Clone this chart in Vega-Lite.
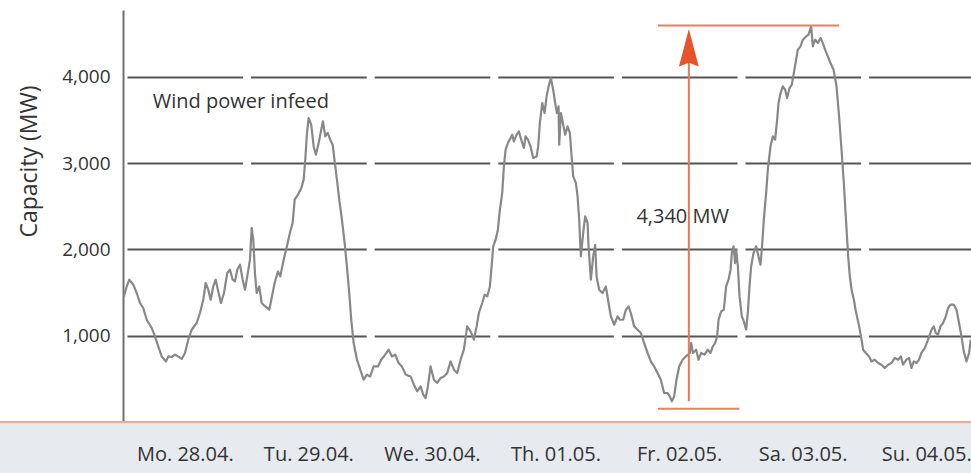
{
  "$schema": "https://vega.github.io/schema/vega-lite/v6.json",
  "width": 848,
  "height": 412,
  "autosize": {"type": "none"},
  "padding": {"left": 123, "top": 10, "right": 0, "bottom": 51},
  "background": "white",
  "config": {"view": {"stroke": null}, "font": "Open Sans", "text": {"font": "Open Sans"}},
  "layer": [
    {
      "data": {"values": [{}]},
      "mark": {"type": "rect", "clip": false, "color": "#e7eaee"},
      "encoding": {
        "x": {"datum": -30, "type": "quantitative", "scale": {"domain": [0, 164.7], "nice": false, "zero": false}},
        "x2": {"datum": 170},
        "y": {"datum": 0, "type": "quantitative", "scale": {"domain": [0, 4774], "nice": false}},
        "y2": {"datum": -700}
      }
    },
    {
      "data": {"values": [{}]},
      "mark": {"type": "rule", "clip": false, "color": "#f2a98a", "strokeWidth": 2},
      "encoding": {
        "x": {"datum": -30, "type": "quantitative", "scale": {"domain": [0, 164.7], "nice": false, "zero": false}},
        "x2": {"datum": 170},
        "y": {"datum": 0, "type": "quantitative", "scale": {"domain": [0, 4774], "nice": false}}
      }
    },
    {
      "data": {"values": [
        {"h":0.19,"mw":1455},{"h":0.72,"mw":1571},{"h":1.22,"mw":1649},{"h":2.0,"mw":1591},{"h":2.66,"mw":1495},{"h":3.30,"mw":1379},{"h":3.94,"mw":1321},{"h":4.60,"mw":1185},{"h":5.57,"mw":1089},{"h":6.21,"mw":992},{"h":6.85,"mw":876},{"h":7.51,"mw":760},{"h":8.35,"mw":702},{"h":8.80,"mw":760},{"h":9.45,"mw":753},{"h":10.10,"mw":780},{"h":10.74,"mw":760},{"h":11.40,"mw":730},{"h":12.04,"mw":800},{"h":12.68,"mw":954},{"h":13.34,"mw":1069},{"h":14.31,"mw":1147},{"h":14.95,"mw":1263},{"h":15.59,"mw":1417},{"h":16.06,"mw":1611},{"h":16.56,"mw":1533},{"h":17.03,"mw":1417},{"h":17.53,"mw":1571},{"h":18.0,"mw":1649},{"h":18.50,"mw":1513},{"h":19.03,"mw":1379},{"h":19.61,"mw":1495},{"h":20.25,"mw":1726},{"h":20.78,"mw":1765},{"h":21.30,"mw":1649},{"h":21.75,"mw":1629},{"h":22.19,"mw":1765},{"h":22.72,"mw":1823},{"h":23.24,"mw":1649},{"h":23.69,"mw":1533},{"h":24.14,"mw":1687},{"h":24.66,"mw":1881},{"h":24.99,"mw":2248},{"h":25.30,"mw":2112},{"h":25.63,"mw":1726},{"h":25.96,"mw":1495},{"h":26.47,"mw":1571},{"h":26.93,"mw":1379},{"h":27.63,"mw":1339},{"h":28.41,"mw":1301},{"h":28.93,"mw":1455},{"h":29.45,"mw":1611},{"h":30.10,"mw":1745},{"h":30.54,"mw":1687},{"h":31.20,"mw":1881},{"h":31.84,"mw":2035},{"h":32.48,"mw":2208},{"h":32.95,"mw":2306},{"h":33.34,"mw":2576},{"h":33.98,"mw":2634},{"h":34.62,"mw":2711},{"h":35.09,"mw":2808},{"h":35.40,"mw":3039},{"h":35.73,"mw":3349},{"h":36.06,"mw":3522},{"h":36.56,"mw":3445},{"h":37.03,"mw":3193},{"h":37.47,"mw":3097},{"h":38.0,"mw":3233},{"h":38.50,"mw":3387},{"h":38.83,"mw":3483},{"h":39.28,"mw":3309},{"h":39.75,"mw":3349},{"h":40.25,"mw":3271},{"h":40.72,"mw":3213},{"h":41.11,"mw":3020},{"h":41.55,"mw":2808},{"h":42.0,"mw":2576},{"h":42.52,"mw":2344},{"h":43.05,"mw":2074},{"h":43.49,"mw":1803},{"h":43.94,"mw":1495},{"h":44.33,"mw":1185},{"h":44.80,"mw":915},{"h":45.44,"mw":722},{"h":46.08,"mw":606},{"h":46.74,"mw":490},{"h":47.38,"mw":548},{"h":48.02,"mw":528},{"h":48.68,"mw":644},{"h":49.51,"mw":644},{"h":50.15,"mw":722},{"h":50.93,"mw":780},{"h":51.59,"mw":838},{"h":52.23,"mw":760},{"h":52.87,"mw":780},{"h":53.53,"mw":684},{"h":54.17,"mw":644},{"h":54.95,"mw":548},{"h":55.86,"mw":528},{"h":56.50,"mw":432},{"h":57.14,"mw":355},{"h":57.80,"mw":412},{"h":58.31,"mw":316},{"h":58.77,"mw":278},{"h":59.22,"mw":412},{"h":59.74,"mw":644},{"h":60.39,"mw":490},{"h":61.03,"mw":452},{"h":61.69,"mw":510},{"h":62.33,"mw":528},{"h":62.97,"mw":568},{"h":63.63,"mw":702},{"h":64.27,"mw":606},{"h":64.91,"mw":568},{"h":65.57,"mw":722},{"h":66.21,"mw":838},{"h":66.85,"mw":1108},{"h":67.51,"mw":1050},{"h":68.15,"mw":954},{"h":68.68,"mw":1108},{"h":69.12,"mw":1263},{"h":69.77,"mw":1379},{"h":70.23,"mw":1475},{"h":70.74,"mw":1455},{"h":71.26,"mw":1571},{"h":71.59,"mw":1803},{"h":71.90,"mw":2035},{"h":72.37,"mw":2112},{"h":72.81,"mw":2228},{"h":73.20,"mw":2460},{"h":73.65,"mw":2653},{"h":73.98,"mw":2962},{"h":74.31,"mw":3155},{"h":74.76,"mw":3233},{"h":75.28,"mw":3291},{"h":75.59,"mw":3329},{"h":75.92,"mw":3251},{"h":76.45,"mw":3329},{"h":76.89,"mw":3367},{"h":77.34,"mw":3271},{"h":77.86,"mw":3175},{"h":78.19,"mw":3309},{"h":78.64,"mw":3271},{"h":79.16,"mw":3193},{"h":79.67,"mw":3059},{"h":80.33,"mw":3077},{"h":80.64,"mw":3193},{"h":80.97,"mw":3465},{"h":81.42,"mw":3696},{"h":81.88,"mw":3580},{"h":82.27,"mw":3773},{"h":82.66,"mw":3889},{"h":83.10,"mw":3986},{"h":83.55,"mw":3850},{"h":83.94,"mw":3696},{"h":84.27,"mw":3580},{"h":84.60,"mw":3657},{"h":84.72,"mw":3213},{"h":85.05,"mw":3580},{"h":85.50,"mw":3445},{"h":85.88,"mw":3329},{"h":86.35,"mw":3425},{"h":86.79,"mw":3349},{"h":87.18,"mw":3039},{"h":87.44,"mw":2846},{"h":87.96,"mw":2769},{"h":88.29,"mw":2614},{"h":88.60,"mw":2344},{"h":88.93,"mw":1919},{"h":89.38,"mw":2190},{"h":89.76,"mw":2382},{"h":90.23,"mw":2306},{"h":90.42,"mw":2035},{"h":90.87,"mw":1649},{"h":91.32,"mw":1919},{"h":91.71,"mw":2054},{"h":91.98,"mw":1687},{"h":92.48,"mw":1533},{"h":93.14,"mw":1495},{"h":93.78,"mw":1571},{"h":94.31,"mw":1379},{"h":94.75,"mw":1224},{"h":95.40,"mw":1127},{"h":96.05,"mw":1224},{"h":96.50,"mw":1185},{"h":97.14,"mw":1185},{"h":97.67,"mw":1301},{"h":98.19,"mw":1339},{"h":98.64,"mw":1263},{"h":99.28,"mw":1108},{"h":99.94,"mw":1069},{"h":100.58,"mw":1031},{"h":101.22,"mw":915},{"h":101.88,"mw":800},{"h":102.52,"mw":702},{"h":103.16,"mw":644},{"h":103.82,"mw":568},{"h":104.46,"mw":490},{"h":105.10,"mw":336},{"h":105.76,"mw":336},{"h":106.21,"mw":297},{"h":106.60,"mw":239},{"h":107.05,"mw":297},{"h":107.51,"mw":490},{"h":108.02,"mw":644},{"h":108.68,"mw":722},{"h":109.32,"mw":760},{"h":110.09,"mw":800},{"h":110.35,"mw":915},{"h":110.68,"mw":800},{"h":111.32,"mw":838},{"h":111.78,"mw":722},{"h":112.29,"mw":800},{"h":112.95,"mw":780},{"h":113.59,"mw":838},{"h":114.11,"mw":800},{"h":114.56,"mw":876},{"h":115.01,"mw":915},{"h":115.40,"mw":992},{"h":115.67,"mw":1185},{"h":116.17,"mw":1282},{"h":116.70,"mw":1301},{"h":117.14,"mw":1571},{"h":117.61,"mw":1649},{"h":118.0,"mw":1765},{"h":118.25,"mw":1958},{"h":118.58,"mw":2035},{"h":118.89,"mw":1842},{"h":119.09,"mw":1996},{"h":119.42,"mw":1803},{"h":119.75,"mw":1455},{"h":120.19,"mw":1224},{"h":120.58,"mw":1166},{"h":121.03,"mw":1069},{"h":121.35,"mw":1263},{"h":121.68,"mw":1571},{"h":122.0,"mw":1803},{"h":122.46,"mw":1958},{"h":122.97,"mw":2035},{"h":123.43,"mw":1919},{"h":123.82,"mw":1823},{"h":124.07,"mw":1996},{"h":124.46,"mw":2344},{"h":124.91,"mw":2653},{"h":125.24,"mw":2923},{"h":125.76,"mw":3193},{"h":126.21,"mw":3309},{"h":126.66,"mw":3271},{"h":127.05,"mw":3503},{"h":127.32,"mw":3696},{"h":127.71,"mw":3812},{"h":128.15,"mw":3889},{"h":128.60,"mw":3850},{"h":128.99,"mw":3754},{"h":129.45,"mw":3870},{"h":129.90,"mw":3908},{"h":130.29,"mw":4044},{"h":130.73,"mw":4198},{"h":131.06,"mw":4314},{"h":131.59,"mw":4352},{"h":132.04,"mw":4430},{"h":132.67,"mw":4468},{"h":133.14,"mw":4488},{"h":133.65,"mw":4584},{"h":133.98,"mw":4352},{"h":134.43,"mw":4430},{"h":134.96,"mw":4391},{"h":135.47,"mw":4449},{"h":135.92,"mw":4391},{"h":136.37,"mw":4314},{"h":136.89,"mw":4236},{"h":137.41,"mw":4160},{"h":138.0,"mw":4082},{"h":138.58,"mw":3889},{"h":139.08,"mw":3541},{"h":139.55,"mw":3155},{"h":140.0,"mw":2769},{"h":140.38,"mw":2382},{"h":140.84,"mw":1919},{"h":141.17,"mw":1687},{"h":141.50,"mw":1533},{"h":141.95,"mw":1417},{"h":142.33,"mw":1282},{"h":142.98,"mw":1108},{"h":143.44,"mw":954},{"h":143.74,"mw":838},{"h":144.27,"mw":800},{"h":144.91,"mw":760},{"h":145.37,"mw":702},{"h":146.01,"mw":722},{"h":146.66,"mw":684},{"h":147.32,"mw":664},{"h":147.96,"mw":626},{"h":148.60,"mw":664},{"h":149.26,"mw":684},{"h":149.90,"mw":742},{"h":150.54,"mw":722},{"h":151.06,"mw":760},{"h":151.51,"mw":664},{"h":152.17,"mw":722},{"h":152.67,"mw":742},{"h":153.14,"mw":626},{"h":153.59,"mw":702},{"h":154.11,"mw":684},{"h":154.61,"mw":722},{"h":155.08,"mw":800},{"h":155.72,"mw":857},{"h":156.36,"mw":954},{"h":157.02,"mw":1069},{"h":157.47,"mw":1108},{"h":157.86,"mw":1031},{"h":158.30,"mw":1012},{"h":158.77,"mw":1108},{"h":159.28,"mw":1147},{"h":159.80,"mw":1224},{"h":160.25,"mw":1321},{"h":160.71,"mw":1359},{"h":161.35,"mw":1359},{"h":161.88,"mw":1301},{"h":162.38,"mw":1147},{"h":162.85,"mw":992},{"h":163.30,"mw":818},{"h":163.82,"mw":702},{"h":164.33,"mw":800},{"h":164.65,"mw":954}
      ]},
      "mark": {"type": "line", "color": "#888888", "strokeWidth": 2.2, "strokeJoin": "round"},
      "encoding": {
        "x": {
          "field": "h", "type": "quantitative",
          "scale": {"domain": [0, 164.7], "nice": false, "zero": false},
          "axis": {
            "values": [12, 36, 60, 84, 108, 132, 156],
            "labelExpr": "['Mo. 28.04.','Tu. 29.04.','We. 30.04.','Th. 01.05.','Fr. 02.05.','Sa. 03.05.','Su. 04.05.'][floor(datum.value / 24)]",
            "title": null, "domain": false, "ticks": false, "grid": false,
            "labelFontSize": 20, "labelColor": "#333333", "labelPadding": 22,
            "labelFlush": false, "labelOverlap": false, "labelBound": false, "zindex": 1
          }
        },
        "y": {
          "field": "mw", "type": "quantitative",
          "scale": {"domain": [0, 4774], "nice": false},
          "axis": {
            "values": [1000, 2000, 3000, 4000],
            "labelExpr": "format(datum.value, ',.0f')",
            "title": "Capacity (MW)", "titleFontSize": 23, "titleFontWeight": "normal", "titleColor": "#333333",
            "titleAngle": -90, "titleX": -94, "titleY": 151, "titleAlign": "center", "titleBaseline": "middle",
            "labelFontSize": 19, "labelColor": "#333333", "labelPadding": 13,
            "ticks": false, "domainColor": "#707070", "domainWidth": 2,
            "grid": true, "gridColor": "#555555", "gridWidth": 1.8, "gridDash": [115.6, 8], "gridDashOffset": 119.6,
            "zindex": 0
          }
        }
      }
    },
    {
      "data": {"values": [{"h1": 103.9, "h2": 139.1, "mw": 4595}, {"h1": 103.9, "h2": 119.7, "mw": 154}]},
      "mark": {"type": "rule", "color": "#ee7f5e", "strokeWidth": 2},
      "encoding": {
        "x": {"field": "h1", "type": "quantitative", "scale": {"domain": [0, 164.7], "nice": false, "zero": false}},
        "x2": {"field": "h2"},
        "y": {"field": "mw", "type": "quantitative", "scale": {"domain": [0, 4774], "nice": false}}
      }
    },
    {
      "data": {"values": [{"h": 109.9, "mw1": 239, "mw2": 4330}]},
      "mark": {"type": "rule", "color": "#ee7551", "strokeWidth": 2},
      "encoding": {
        "x": {"field": "h", "type": "quantitative", "scale": {"domain": [0, 164.7], "nice": false, "zero": false}},
        "y": {"field": "mw1", "type": "quantitative", "scale": {"domain": [0, 4774], "nice": false}},
        "y2": {"field": "mw2"}
      }
    },
    {
      "data": {"values": [{"h": 109.9, "mw": 4337}]},
      "mark": {"type": "point", "shape": "M0,-1L0.53,1L0,0.8L-0.53,1Z", "filled": true, "size": 1400, "color": "#e8542a", "opacity": 1},
      "encoding": {
        "x": {"field": "h", "type": "quantitative", "scale": {"domain": [0, 164.7], "nice": false, "zero": false}},
        "y": {"field": "mw", "type": "quantitative", "scale": {"domain": [0, 4774], "nice": false}}
      }
    },
    {
      "data": {"values": [{"h": 22.9, "mw": 3711, "label": "Wind power infeed"}, {"h": 108.7, "mw": 2379, "label": "4,340 MW"}]},
      "mark": {"type": "text", "fontSize": 20, "color": "#333333", "align": "center", "baseline": "middle", "font": "Open Sans"},
      "encoding": {
        "x": {"field": "h", "type": "quantitative", "scale": {"domain": [0, 164.7], "nice": false, "zero": false}},
        "y": {"field": "mw", "type": "quantitative", "scale": {"domain": [0, 4774], "nice": false}},
        "text": {"field": "label"}
      }
    }
  ]
}
